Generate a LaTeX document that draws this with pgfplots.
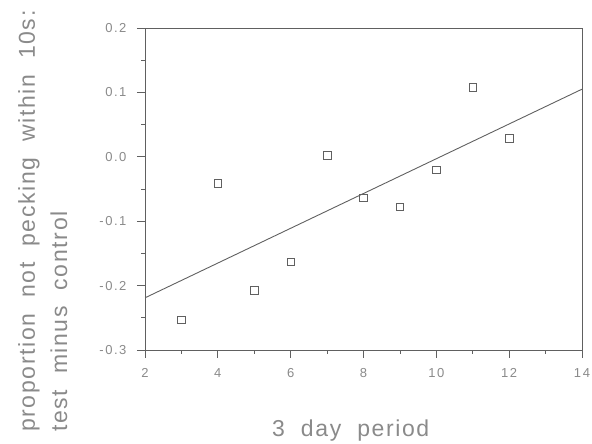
\documentclass[border=0pt]{standalone}
\usepackage{fontspec}
\setmainfont{Liberation Sans}
\newfontfamily\labfont[LetterSpace=7,WordSpace=2]{Liberation Sans}
\newfontfamily\tickfont[LetterSpace=12,WordSpace=2]{Liberation Sans}
\usepackage{pgfplots}
\pgfplotsset{compat=1.18}
\definecolor{axgray}{HTML}{606060}
\definecolor{txtgray}{HTML}{8A8A8A}
\begin{document}
\begin{tikzpicture}
\useasboundingbox (0,0) rectangle (592pt,444pt);
\begin{axis}[
    at={(145pt,94pt)}, anchor=south west,
    scale only axis,
    width=437pt, height=322pt,
    xmin=2, xmax=14,
    ymin=-0.3, ymax=0.2,
    xtick={2,4,...,14},
    xticklabels={\mbox{2},\mbox{4},\mbox{6},\mbox{8},\mbox{10},\mbox{12},\mbox{14}},
    ytick={-0.3,-0.2,-0.1,0,0.1,0.2},
    yticklabels={\mbox{-0.3},\mbox{-0.2},\mbox{-0.1},\mbox{0.0},\mbox{0.1},\mbox{0.2}},
    /pgf/number format/assume math mode=true,
    minor x tick num=1,
    minor y tick num=1,
    tick align=outside,
    major tick length=8pt,
    minor tick length=4pt,
    xtick pos=bottom, ytick pos=left,
    axis line style={axgray, line width=0.9pt},
    every tick/.style={axgray, line width=0.8pt},
    tick label style={txtgray, font=\tickfont\fontsize{13}{15}\selectfont},
    xticklabel style={yshift=-7pt},
    yticklabel style={xshift=-7pt},
]
\addplot[only marks, mark=square, mark size=3.8pt, color=axgray, mark options={line width=0.7pt}] coordinates {
    (3,-0.253) (4,-0.041) (5,-0.207) (6,-0.163) (7,0.002)
    (8,-0.064) (9,-0.078) (10,-0.020) (11,0.108) (12,0.029)
};
\addplot[axgray, line width=0.9pt] coordinates {(2,-0.219) (14,0.105)};
\end{axis}
\node[rotate=90, anchor=base west, inner sep=0, txtgray, font=\labfont\fontsize{23}{27}\selectfont] at (35pt,12pt) {proportion not pecking within 10s:};
\node[rotate=90, anchor=base west, inner sep=0, txtgray, font=\labfont\fontsize{23}{27}\selectfont] at (67pt,12pt) {test minus control};
\node[anchor=base west, inner sep=0, txtgray, font=\labfont\fontsize{23}{27}\selectfont] at (272pt,7pt) {3 day period};
\end{tikzpicture}
\end{document}
